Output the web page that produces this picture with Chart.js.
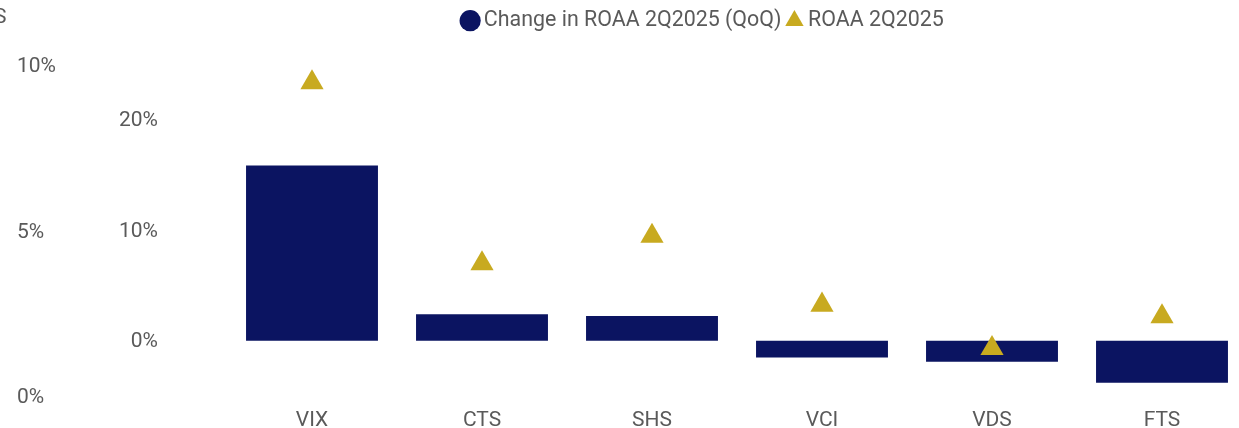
<!DOCTYPE html>
<html lang="en">
<head>
  <meta charset="UTF-8">
  <title>ROAA 2Q2025</title>
  <script src="https://cdn.jsdelivr.net/npm/chart.js"></script>
  <style>
    body {
      margin: 0;
      overflow: hidden;
      background: #ffffff;
    }
    #chart-container {
      width: 1394px;
      height: 428px;
    }
  </style>
</head>
<body>
  <div id="chart-container">
    <canvas id="roaaChart" width="1394" height="428"></canvas>
  </div>

  <script>
    // Data
    const companies = ["VIX", "CTS", "SHS", "VCI", "VDS", "FTS"];
    const roaaChange = [15.9, 2.4, 2.25, -1.5, -1.9, -3.8];   // Change in ROAA 2Q2025 (QoQ), inner axis
    const roaa = [9.47, 4.0, 4.83, 2.75, 1.44, 2.4];         // ROAA 2Q2025, outer axis
    const outerTicks = [0, 5, 10];
    const innerTicks = [0, 10, 20];

    const navy = "#0b1461";
    const gold = "#c8aa20";
    const textGray = "#5a5a5a";
    const baseFont = { family: "Roboto", size: 21 };

    // clipped text at the top left corner of the picture
    const cornerText = {
      id: "cornerText",
      afterDraw(chart) {
        const ctx = chart.ctx;
        ctx.save();
        ctx.font = "21px Roboto";
        ctx.fillStyle = textGray;
        ctx.textBaseline = "middle";
        ctx.fillText("S", -6, 18);
        ctx.restore();
      }
    };

    // empty axis used only to take up space
    function spacer(position, weight, width) {
      return {
        type: "linear",
        position: position,
        weight: weight,
        grid: { display: false, drawTicks: false },
        border: { display: false },
        ticks: { display: false },
        afterFit(scale) { scale.width = width; }
      };
    }

    const ctx = document.getElementById("roaaChart").getContext("2d");

    new Chart(ctx, {
      data: {
        labels: companies,
        datasets: [
          {
            type: "line",
            label: "ROAA 2Q2025",
            data: roaa,
            yAxisID: "yOuter",
            showLine: false,
            pointStyle: "triangle",
            pointRadius: 13.4,
            pointHoverRadius: 13.4,
            pointBorderWidth: 0,
            pointBackgroundColor: gold,
            backgroundColor: gold,
            borderColor: gold,
            order: 0
          },
          {
            type: "bar",
            label: "Change in ROAA 2Q2025 (QoQ)",
            data: roaaChange,
            yAxisID: "yInner",
            backgroundColor: navy,
            borderColor: navy,
            borderWidth: 0,
            barPercentage: 1.0,
            categoryPercentage: 0.776,
            pointStyle: "circle",
            order: 1
          }
        ]
      },
      options: {
        responsive: false,
        animation: false,
        devicePixelRatio: 1,
        layout: { padding: { left: 17, right: 0, top: 0, bottom: 0 } },
        plugins: {
          legend: {
            position: "top",
            align: "center",
            reverse: true,
            labels: {
              usePointStyle: true,
              boxWidth: 6,
              boxHeight: 15,
              padding: 10,
              color: textGray,
              font: { family: "Roboto", size: 21.4 }
            }
          },
          subtitle: {
            display: true,
            text: "",
            weight: 500,
            font: { size: 10, lineHeight: 1.2 },
            padding: { top: 6, bottom: 5.6 }
          },
          tooltip: { enabled: false }
        },
        scales: {
          x: {
            grid: { display: false, drawTicks: false },
            border: { display: false },
            ticks: { color: textGray, font: baseFont, padding: 12 },
            afterFit(scale) { scale.height = 32; }
          },
          yOuter: {
            type: "linear",
            position: "left",
            weight: 3,
            min: 0,
            max: 10,
            grid: { display: false, drawTicks: false },
            border: { display: false },
            afterBuildTicks(scale) { scale.ticks = outerTicks.map(v => ({ value: v })); },
            ticks: {
              crossAlign: "far",
              padding: 0,
              labelOffset: 2,
              color: textGray,
              font: baseFont,
              callback: v => v + "%"
            },
            afterFit(scale) { scale.width = 81; }
          },
          yInner: {
            type: "linear",
            position: "left",
            weight: 2,
            min: -5,
            max: 25,
            grid: { display: false, drawTicks: false },
            border: { display: false },
            afterBuildTicks(scale) { scale.ticks = innerTicks.map(v => ({ value: v })); },
            ticks: {
              crossAlign: "near",
              padding: 0,
              labelOffset: 1,
              color: textGray,
              font: baseFont,
              callback: v => v + "%"
            },
            afterFit(scale) { scale.width = 60; }
          },
          yGap: spacer("left", 1, 69),
          yPad: spacer("right", 0, 147)
        }
      },
      plugins: [cornerText]
    });
  </script>
</body>
</html>
